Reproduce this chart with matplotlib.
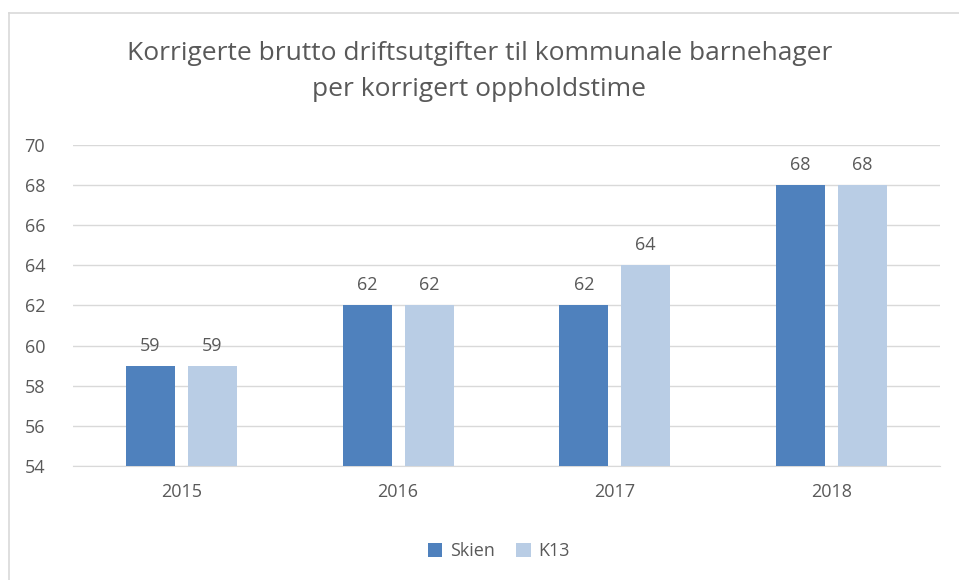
import matplotlib.pyplot as plt
import numpy as np

years = ['2015', '2016', '2017', '2018']
skien = [59, 62, 62, 68]
k13 = [59, 62, 64, 68]

plt.rcParams['font.family'] = ['Open Sans', 'DejaVu Sans']
txt = '#595959'

fig = plt.figure(figsize=(9.59, 5.8), dpi=100)
ax = fig.add_axes([0.0761, 0.1966, 0.9039, 0.5534])

x = np.arange(len(years))
w = 0.226
off = 0.143
b1 = ax.bar(x - off, [v - 54 for v in skien], w, bottom=54, color='#4F81BD', label='Skien', zorder=3)
b2 = ax.bar(x + off, [v - 54 for v in k13], w, bottom=54, color='#B9CDE5', label='K13', zorder=3)
for bars, vals in ((b1, skien), (b2, k13)):
    for r, v in zip(bars, vals):
        ax.annotate(str(v), (r.get_x() + r.get_width() / 2, v), xytext=(0, 8),
                    textcoords='offset points', ha='center', va='bottom',
                    fontsize=13, color=txt)

ax.set_xlim(-0.5, 3.5)
ax.set_ylim(54, 70)
ax.set_yticks(range(54, 71, 2))
ax.set_xticks(x)
ax.set_xticklabels(years)
ax.grid(axis='y', color='#D9D9D9', linewidth=1, zorder=0)
for s in ['top', 'right', 'left']:
    ax.spines[s].set_visible(False)
ax.spines['bottom'].set_color('#D9D9D9')
ax.tick_params(length=0, labelsize=13, colors=txt)
ax.tick_params(axis='y', pad=20)
ax.tick_params(axis='x', pad=12)

fig.text(0.5, 0.877, 'Korrigerte brutto driftsutgifter til kommunale barnehager\nper korrigert oppholdstime',
         ha='center', va='center', fontsize=19, color=txt, linespacing=1.6)

fig.legend(loc='center', bbox_to_anchor=(0.52, 0.05), ncol=2, frameon=False,
           fontsize=13, labelcolor=txt, handlelength=0.8, handleheight=0.8,
           handletextpad=0.4, columnspacing=1.2)

# chart border (top and left edges)
fig.add_artist(plt.Line2D([0.009, 1], [0.977, 0.977], color='#D9D9D9', lw=1.2, transform=fig.transFigure))
fig.add_artist(plt.Line2D([0.009, 0.009], [0, 0.977], color='#D9D9D9', lw=1.2, transform=fig.transFigure))

fig.savefig('out.png', dpi=100)
